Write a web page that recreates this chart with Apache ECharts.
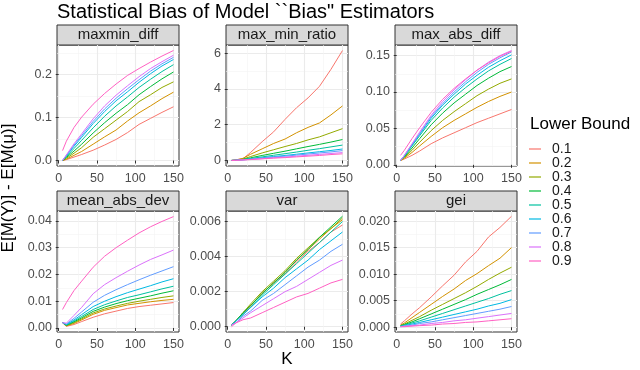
<!DOCTYPE html>
<html>
<head>
<meta charset="utf-8">
<script src="https://cdn.jsdelivr.net/npm/echarts@6/dist/echarts.min.js"></script>
<style>
  html, body { margin: 0; padding: 0; background: #fff; }
  #chart { width: 640px; height: 370px; }
</style>
</head>
<body>
<div id="chart"></div>
<script>
// K values sampled along the x axis
const K = [5, 10, 20, 30, 45, 60, 75, 90, 105, 120, 135, 150];
const levels = ['0.1', '0.2', '0.3', '0.4', '0.5', '0.6', '0.7', '0.8', '0.9'];
const colors = ['#F8766D', '#D39200', '#93AA00', '#00BA38', '#00C19F', '#00B9E3', '#619CFF', '#DB72FB', '#FF61C3'];
const panelNames = ['maxmin_diff', 'max_min_ratio', 'max_abs_diff', 'mean_abs_dev', 'var', 'gei'];

// one row per lower bound (0.1 ... 0.9)
const maxminDiff = [
  [0, 0.002, 0.008, 0.014, 0.024, 0.036, 0.049, 0.065, 0.084, 0.098, 0.112, 0.125],
  [0, 0.003, 0.012, 0.021, 0.038, 0.055, 0.071, 0.092, 0.111, 0.127, 0.144, 0.159],
  [0, 0.005, 0.017, 0.030, 0.054, 0.074, 0.094, 0.114, 0.137, 0.153, 0.170, 0.183],
  [0, 0.007, 0.022, 0.038, 0.064, 0.088, 0.110, 0.130, 0.153, 0.172, 0.190, 0.206],
  [0, 0.009, 0.028, 0.047, 0.076, 0.103, 0.127, 0.148, 0.170, 0.189, 0.207, 0.223],
  [0, 0.011, 0.033, 0.054, 0.086, 0.114, 0.139, 0.160, 0.182, 0.202, 0.220, 0.235],
  [0, 0.012, 0.036, 0.058, 0.091, 0.120, 0.145, 0.167, 0.188, 0.208, 0.225, 0.240],
  [0, 0.013, 0.039, 0.062, 0.097, 0.127, 0.152, 0.174, 0.195, 0.214, 0.230, 0.245],
  [0.023, 0.045, 0.077, 0.101, 0.131, 0.156, 0.178, 0.198, 0.214, 0.229, 0.243, 0.256]
];
const maxMinRatio = [
  [0, 0.03, 0.10, 0.45, 1.05, 1.60, 2.30, 2.95, 3.50, 4.15, 5.10, 6.15],
  [0, 0.02, 0.12, 0.35, 0.65, 0.95, 1.20, 1.55, 1.85, 2.10, 2.55, 3.05],
  [0, 0.01, 0.08, 0.22, 0.42, 0.60, 0.78, 0.95, 1.15, 1.32, 1.55, 1.78],
  [0, 0.01, 0.06, 0.15, 0.28, 0.40, 0.52, 0.65, 0.78, 0.90, 1.03, 1.17],
  [0, 0.01, 0.05, 0.11, 0.20, 0.29, 0.38, 0.47, 0.57, 0.66, 0.76, 0.86],
  [0, 0.01, 0.04, 0.08, 0.15, 0.22, 0.28, 0.35, 0.42, 0.49, 0.56, 0.64],
  [0, 0.01, 0.03, 0.07, 0.13, 0.19, 0.24, 0.30, 0.36, 0.42, 0.48, 0.55],
  [0, 0.01, 0.03, 0.06, 0.10, 0.15, 0.19, 0.24, 0.29, 0.34, 0.39, 0.44],
  [0, 0.01, 0.03, 0.05, 0.09, 0.13, 0.16, 0.20, 0.24, 0.28, 0.33, 0.37]
];
const maxAbsDiff = [
  [0.006, 0.008, 0.013, 0.019, 0.029, 0.037, 0.044, 0.051, 0.058, 0.064, 0.070, 0.076],
  [0.006, 0.009, 0.017, 0.026, 0.039, 0.051, 0.061, 0.070, 0.079, 0.087, 0.094, 0.100],
  [0.006, 0.010, 0.020, 0.031, 0.047, 0.061, 0.073, 0.084, 0.095, 0.104, 0.112, 0.118],
  [0.006, 0.011, 0.023, 0.036, 0.055, 0.071, 0.085, 0.097, 0.109, 0.119, 0.128, 0.135],
  [0.006, 0.012, 0.026, 0.040, 0.061, 0.078, 0.093, 0.106, 0.118, 0.129, 0.138, 0.146],
  [0.006, 0.012, 0.027, 0.042, 0.064, 0.082, 0.097, 0.111, 0.123, 0.134, 0.143, 0.151],
  [0.006, 0.013, 0.028, 0.043, 0.066, 0.084, 0.100, 0.114, 0.127, 0.138, 0.147, 0.155],
  [0.006, 0.013, 0.029, 0.045, 0.068, 0.087, 0.103, 0.117, 0.130, 0.141, 0.150, 0.157],
  [0.013, 0.020, 0.036, 0.051, 0.072, 0.090, 0.105, 0.118, 0.130, 0.140, 0.149, 0.156]
];
const meanAbsDev = [
  [0.0019, 0.0006, 0.0013, 0.0024, 0.0040, 0.0053, 0.0063, 0.0073, 0.0080, 0.0085, 0.0090, 0.0095],
  [0.0020, 0.0008, 0.0017, 0.0030, 0.0051, 0.0066, 0.0076, 0.0086, 0.0092, 0.0098, 0.0103, 0.0107],
  [0.0020, 0.0009, 0.0020, 0.0034, 0.0056, 0.0071, 0.0082, 0.0092, 0.0100, 0.0107, 0.0114, 0.0120],
  [0.0020, 0.0010, 0.0023, 0.0038, 0.0062, 0.0078, 0.0091, 0.0102, 0.0111, 0.0120, 0.0130, 0.0139],
  [0.0020, 0.0011, 0.0026, 0.0043, 0.0069, 0.0087, 0.0101, 0.0114, 0.0124, 0.0135, 0.0146, 0.0156],
  [0.0020, 0.0013, 0.0030, 0.0050, 0.0080, 0.0100, 0.0117, 0.0132, 0.0145, 0.0158, 0.0172, 0.0184],
  [0.0020, 0.0015, 0.0036, 0.0060, 0.0096, 0.0122, 0.0143, 0.0162, 0.0180, 0.0197, 0.0213, 0.0229],
  [0.0020, 0.0018, 0.0047, 0.0077, 0.0128, 0.0162, 0.0188, 0.0212, 0.0235, 0.0256, 0.0273, 0.0291],
  [0.0069, 0.0095, 0.0140, 0.0175, 0.0227, 0.0268, 0.0300, 0.0328, 0.0355, 0.0378, 0.0398, 0.0416]
];
const varBias = [
  [0.0001, 0.0003, 0.0007, 0.0012, 0.0019, 0.0025, 0.0030, 0.0037, 0.0043, 0.0048, 0.0054, 0.0058],
  [0.0001, 0.0003, 0.0008, 0.0012, 0.0019, 0.0025, 0.0031, 0.0038, 0.0044, 0.0050, 0.0056, 0.0061],
  [0.0001, 0.0003, 0.0008, 0.0013, 0.0020, 0.0026, 0.0032, 0.0039, 0.0045, 0.0051, 0.0056, 0.0062],
  [0.0001, 0.0003, 0.0008, 0.0012, 0.0019, 0.0025, 0.0031, 0.0038, 0.0044, 0.0051, 0.0057, 0.0063],
  [0.0001, 0.0003, 0.0007, 0.0011, 0.0018, 0.0024, 0.0030, 0.0036, 0.0042, 0.0048, 0.0054, 0.0060],
  [0.0001, 0.0003, 0.0007, 0.0011, 0.0017, 0.0022, 0.0028, 0.0033, 0.0038, 0.0044, 0.0049, 0.0054],
  [0.0001, 0.0002, 0.0006, 0.0009, 0.0015, 0.0019, 0.0024, 0.0029, 0.0034, 0.0038, 0.0043, 0.0047],
  [0.0001, 0.0002, 0.0005, 0.0008, 0.0012, 0.0016, 0.0020, 0.0023, 0.0027, 0.0031, 0.0035, 0.0038],
  [0.0000, 0.0002, 0.0004, 0.0005, 0.0008, 0.0011, 0.0014, 0.0017, 0.0019, 0.0022, 0.0025, 0.0027]
];
const gei = [
  [0.0006, 0.0012, 0.0025, 0.0037, 0.0057, 0.0078, 0.0098, 0.0123, 0.0143, 0.0170, 0.0188, 0.0209],
  [0.0004, 0.0008, 0.0018, 0.0028, 0.0043, 0.0058, 0.0072, 0.0088, 0.0101, 0.0116, 0.0130, 0.0150],
  [0.0003, 0.0006, 0.0013, 0.0020, 0.0032, 0.0043, 0.0054, 0.0065, 0.0077, 0.0090, 0.0102, 0.0113],
  [0.0003, 0.0005, 0.0010, 0.0016, 0.0025, 0.0034, 0.0043, 0.0052, 0.0062, 0.0071, 0.0080, 0.0090],
  [0.0002, 0.0004, 0.0008, 0.0012, 0.0019, 0.0026, 0.0033, 0.0040, 0.0047, 0.0054, 0.0062, 0.0069],
  [0.0002, 0.0003, 0.0006, 0.0009, 0.0014, 0.0019, 0.0024, 0.0029, 0.0034, 0.0040, 0.0045, 0.0052],
  [0.0001, 0.0002, 0.0004, 0.0007, 0.0010, 0.0014, 0.0018, 0.0022, 0.0026, 0.0030, 0.0034, 0.0039],
  [0.0001, 0.0002, 0.0003, 0.0004, 0.0007, 0.0009, 0.0012, 0.0014, 0.0017, 0.0020, 0.0023, 0.0026],
  [0.0001, 0.0001, 0.0002, 0.0003, 0.0004, 0.0006, 0.0007, 0.0009, 0.0010, 0.0012, 0.0014, 0.0016]
];
const panelData = [maxminDiff, maxMinRatio, maxAbsDiff, meanAbsDev, varBias, gei];

// axis ticks
const xTicks = [0, 50, 100, 150];
const xMinor = [25, 75, 125];
const yTicks = [
  [0, 0.1, 0.2],
  [0, 2, 4, 6],
  [0, 0.05, 0.10, 0.15],
  [0, 0.01, 0.02, 0.03, 0.04],
  [0, 0.002, 0.004, 0.006],
  [0, 0.005, 0.010, 0.015, 0.020]
];
const yMinor = [
  [0.05, 0.15, 0.25],
  [1, 3, 5],
  [0.025, 0.075, 0.125],
  [0.005, 0.015, 0.025, 0.035],
  [0.001, 0.003, 0.005],
  [0.0025, 0.0075, 0.0125, 0.0175]
];
const yDecimals = [1, 0, 2, 2, 3, 3];
const yRange = [
  [-0.0128, 0.2688],
  [-0.31, 6.46],
  [-0.0016, 0.1646],
  [-0.0015, 0.0437],
  [-0.0003, 0.0066],
  [-0.0009, 0.0219]
];

const FONT = '"Liberation Sans", Arial, sans-serif';
const colLeft = [57, 226, 395];
const rowTop = [45, 211];
const gridW = 122, gridH = 121, stripH = 20;

let grids = [], xAxes = [], yAxes = [], series = [], graphics = [];

for (let p = 0; p < 6; p++) {
  const col = p % 3, row = Math.floor(p / 3);
  grids.push({
    left: colLeft[col], top: rowTop[row], width: gridW, height: gridH,
    show: true, backgroundColor: '#fff', borderColor: '#333333', borderWidth: 1
  });
  // strip above panel
  graphics.push({
    type: 'rect',
    shape: { x: colLeft[col], y: rowTop[row] - stripH, width: gridW, height: stripH },
    style: { fill: '#D9D9D9', stroke: '#333333', lineWidth: 1 }
  });
  graphics.push({
    type: 'text',
    x: colLeft[col] + gridW / 2, y: rowTop[row] - stripH / 2,
    style: { text: panelNames[p], fill: '#1A1A1A', font: '15px ' + FONT, align: 'center', verticalAlign: 'middle' }
  });
}

// major axes first (index 0..5), then minor grid axes (6..11)
for (let p = 0; p < 6; p++) {
  const dec = yDecimals[p];
  xAxes.push({
    type: 'value', gridIndex: p, min: -2.25, max: 157.25,
    axisLine: { show: false },
    axisTick: { show: true, length: 3, customValues: xTicks, lineStyle: { color: '#333333' } },
    axisLabel: { customValues: xTicks, color: '#4D4D4D', fontSize: 12.5, margin: 6, fontFamily: FONT },
    splitLine: { show: true, lineStyle: { color: '#EBEBEB', width: 1.1 } }
  });
  yAxes.push({
    type: 'value', gridIndex: p, min: yRange[p][0], max: yRange[p][1],
    axisLine: { show: false },
    axisTick: { show: true, length: 3, customValues: yTicks[p], lineStyle: { color: '#333333' } },
    axisLabel: {
      customValues: yTicks[p], color: '#4D4D4D', fontSize: 12.5, margin: 5, fontFamily: FONT,
      formatter: v => Number(v).toFixed(dec)
    },
    splitLine: { show: true, lineStyle: { color: '#EBEBEB', width: 1.1 } }
  });
}
for (let p = 0; p < 6; p++) {
  xAxes.push({
    type: 'value', gridIndex: p, min: -2.25, max: 157.25,
    axisLine: { show: false }, axisLabel: { show: false },
    axisTick: { show: false, customValues: xMinor },
    splitLine: { show: true, lineStyle: { color: '#F3F3F3', width: 0.6 } }
  });
  yAxes.push({
    type: 'value', gridIndex: p, min: yRange[p][0], max: yRange[p][1],
    axisLine: { show: false }, axisLabel: { show: false },
    axisTick: { show: false, customValues: yMinor[p] },
    splitLine: { show: true, lineStyle: { color: '#F3F3F3', width: 0.6 } }
  });
}

for (let p = 0; p < 6; p++) {
  panelData[p].forEach((vals, i) => {
    series.push({
      type: 'line', name: levels[i], xAxisIndex: p, yAxisIndex: p,
      data: K.map((k, j) => [k, vals[j]]),
      symbol: 'none', color: colors[i],
      lineStyle: { width: 1, color: colors[i] },
      emphasis: { disabled: true }
    });
  });
}

// titles
graphics.push({
  type: 'text', x: 57, y: 2,
  style: { text: 'Statistical Bias of Model ``Bias" Estimators', fill: '#000', font: '20px ' + FONT }
});
graphics.push({
  type: 'text', x: 287, y: 359,
  style: { text: 'K', fill: '#000', font: '17px ' + FONT, align: 'center', verticalAlign: 'middle' }
});
graphics.push({
  type: 'text', x: 8, y: 188, rotation: Math.PI / 2,
  style: { text: 'E[M(Y)] - E[M(μ)]', fill: '#000', font: '17px ' + FONT, align: 'center', verticalAlign: 'middle' }
});
graphics.push({
  type: 'text', x: 530, y: 124,
  style: { text: 'Lower Bound', fill: '#000', font: '17px ' + FONT, verticalAlign: 'middle' }
});

const chart = echarts.init(document.getElementById('chart'));
chart.setOption({
  animation: false,
  grid: grids,
  xAxis: xAxes,
  yAxis: yAxes,
  series: series,
  graphic: graphics,
  legend: {
    data: levels, orient: 'vertical', left: 529, top: 142, padding: 0,
    icon: 'rect', itemWidth: 12, itemHeight: 1.2, itemGap: 0,
    textStyle: { fontSize: 14, lineHeight: 14, color: '#1A1A1A', fontFamily: FONT, padding: [0, 0, 0, 6] }
  }
});
</script>
</body>
</html>
